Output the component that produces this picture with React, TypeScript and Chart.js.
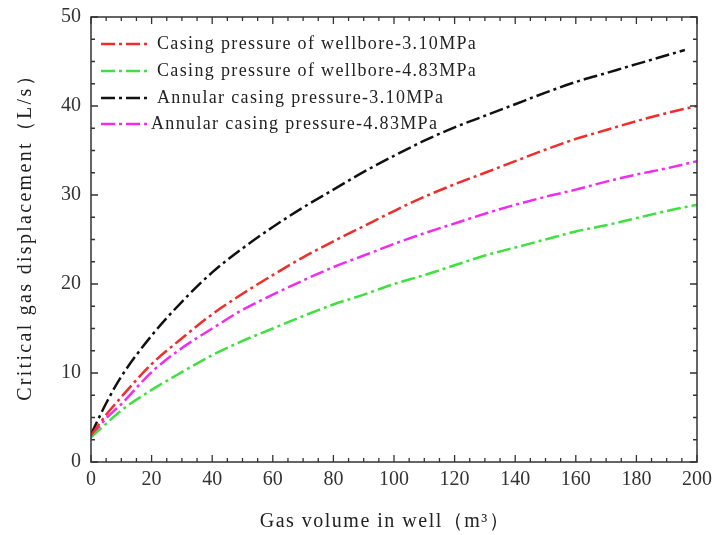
import React, { useEffect, useRef } from "react";
import { Chart, registerables } from "chart.js";

Chart.register(...registerables);

const xValues = [0, 5, 10, 20, 30, 40, 50, 60, 70, 80, 90, 100, 110, 120, 130, 140, 150, 160, 170, 180, 190, 200];
const blackX = [0, 5, 10, 20, 30, 40, 50, 60, 70, 80, 90, 100, 110, 120, 130, 140, 150, 160, 170, 180, 190, 196];

const casing310 = [3.0, 5.3, 7.3, 11.0, 13.9, 16.6, 18.9, 21.0, 23.0, 24.8, 26.5, 28.2, 29.8, 31.2, 32.5, 33.8, 35.1, 36.3, 37.3, 38.3, 39.2, 40.0];
const casing483 = [2.8, 4.3, 5.8, 8.1, 10.1, 12.0, 13.6, 15.0, 16.4, 17.7, 18.8, 20.0, 21.0, 22.1, 23.2, 24.1, 25.0, 25.9, 26.6, 27.4, 28.2, 28.9];
const annular310 = [3.1, 6.6, 9.6, 14.2, 18.0, 21.3, 24.0, 26.4, 28.6, 30.6, 32.6, 34.4, 36.1, 37.6, 38.9, 40.2, 41.5, 42.7, 43.7, 44.7, 45.7, 46.3];
const annular483 = [2.8, 4.9, 6.5, 10.1, 12.8, 15.0, 17.1, 18.8, 20.4, 21.9, 23.2, 24.5, 25.7, 26.8, 27.9, 28.9, 29.8, 30.6, 31.5, 32.3, 33.0, 33.8];

const seriesLabels = [
  "Casing pressure of wellbore-3.10MPa",
  "Casing pressure of wellbore-4.83MPa",
  "Annular casing pressure-3.10MPa",
  "Annular casing pressure-4.83MPa",
];
const seriesColors = ["#f02c2c", "#3fe03f", "#111111", "#f02cf0"];

const xMajorTicks = [0, 20, 40, 60, 80, 100, 120, 140, 160, 180, 200];
const yMajorTicks = [0, 10, 20, 30, 40, 50];
const xTitle = "Gas volume in well（m³）";
const yTitle = "Critical gas displacement（L/s）";

const FONT = "'Liberation Serif', 'Times New Roman', serif";
const DASH = [14, 4, 3, 4];

const toPts = (xs: number[], ys: number[]) => xs.map((x, i) => ({ x, y: ys[i] }));

const framePlugin = {
  id: "frameTicks",
  afterDatasetsDraw(chart: any) {
    const { ctx, chartArea: a, scales } = chart;
    const xs = scales.x;
    const ys = scales.y;
    ctx.save();
    ctx.strokeStyle = "#333";
    ctx.lineWidth = 1.5;
    ctx.strokeRect(a.left, a.top, a.right - a.left, a.bottom - a.top);
    ctx.lineWidth = 1.3;
    ctx.beginPath();
    for (let v = 0; v <= 200; v += 5) {
      const p = xs.getPixelForValue(v);
      const len = v % 20 === 0 ? 7 : 4;
      ctx.moveTo(p, a.bottom);
      ctx.lineTo(p, a.bottom - len);
      ctx.moveTo(p, a.top);
      ctx.lineTo(p, a.top + len);
    }
    for (let v = 0; v <= 50; v += 2.5) {
      const p = ys.getPixelForValue(v);
      const len = v % 10 === 0 ? 7 : 4;
      ctx.moveTo(a.left, p);
      ctx.lineTo(a.left + len, p);
      ctx.moveTo(a.right, p);
      ctx.lineTo(a.right - len, p);
    }
    ctx.stroke();

    // legend
    const rowY = [27, 54, 81, 107];
    ctx.font = `18px ${FONT}`;
    (ctx as any).letterSpacing = "1.35px";
    ctx.textBaseline = "middle";
    ctx.textAlign = "left";
    seriesLabels.forEach((lab, i) => {
      const y = a.top + rowY[i];
      ctx.strokeStyle = seriesColors[i];
      ctx.lineWidth = 2.5;
      ctx.setLineDash(DASH);
      ctx.beginPath();
      ctx.moveTo(a.left + 10, y);
      ctx.lineTo(a.left + 60, y);
      ctx.stroke();
      ctx.setLineDash([]);
      ctx.fillStyle = "#222";
      ctx.fillText(lab, a.left + (i === 3 ? 60 : 66), y);
    });

    // axis titles
    ctx.font = `20px ${FONT}`;
    (ctx as any).letterSpacing = "1.5px";
    ctx.fillStyle = "#222";
    ctx.textAlign = "center";
    ctx.textBaseline = "middle";
    ctx.fillText(xTitle, (a.left + a.right) / 2 - 9, a.bottom + 60);
    (ctx as any).letterSpacing = "2.3px";
    ctx.save();
    ctx.translate(26, (a.top + a.bottom) / 2 - 7);
    ctx.rotate(-Math.PI / 2);
    ctx.fillText(yTitle, 0, 0);
    ctx.restore();
    (ctx as any).letterSpacing = "0px";
    ctx.restore();
  },
};

export default function App() {
  const ref = useRef<HTMLCanvasElement | null>(null);
  useEffect(() => {
    document.body.style.margin = "0";
    if (!ref.current) return;
    const datasets = [
      { label: seriesLabels[0], data: toPts(xValues, casing310) },
      { label: seriesLabels[1], data: toPts(xValues, casing483) },
      { label: seriesLabels[2], data: toPts(blackX, annular310) },
      { label: seriesLabels[3], data: toPts(xValues, annular483) },
    ].map((d, i) => ({
      ...d,
      borderColor: seriesColors[i],
      backgroundColor: seriesColors[i],
      borderWidth: 2.5,
      borderDash: DASH,
      pointRadius: 0,
      tension: 0.4,
      cubicInterpolationMode: "monotone" as const,
      fill: false,
    }));
    const chart = new Chart(ref.current, {
      type: "line",
      data: { datasets },
      options: {
        animation: false,
        responsive: false,
        maintainAspectRatio: false,
        layout: { padding: { left: 0, right: 18, top: 17, bottom: 0 } },
        plugins: { legend: { display: false }, tooltip: { enabled: false } },
        scales: {
          x: {
            type: "linear",
            min: 0,
            max: 200,
            afterFit: (s: any) => { s.height = 73; s.paddingLeft = 0; s.paddingRight = 0; },
            afterBuildTicks: (s: any) => { s.ticks = xMajorTicks.map((v) => ({ value: v })); },
            grid: { display: false, drawTicks: false },
            border: { display: false },
            ticks: { color: "#333", font: { family: FONT, size: 20 }, padding: 6, maxRotation: 0 },
            title: { display: false },
          },
          y: {
            type: "linear",
            min: 0,
            max: 50,
            afterFit: (s: any) => { s.width = 91; s.paddingTop = 0; s.paddingBottom = 0; },
            afterBuildTicks: (s: any) => { s.ticks = yMajorTicks.map((v) => ({ value: v })); },
            grid: { display: false, drawTicks: false },
            border: { display: false },
            ticks: { color: "#333", font: { family: FONT, size: 20 }, padding: 10 },
            title: { display: false },
          },
        },
      },
      plugins: [framePlugin],
    });
    return () => chart.destroy();
  }, []);
  return (
    <div style={{ width: 715, height: 535, background: "#fff" }}>
      <canvas ref={ref} width={715} height={535} style={{ display: "block" }} />
    </div>
  );
}
